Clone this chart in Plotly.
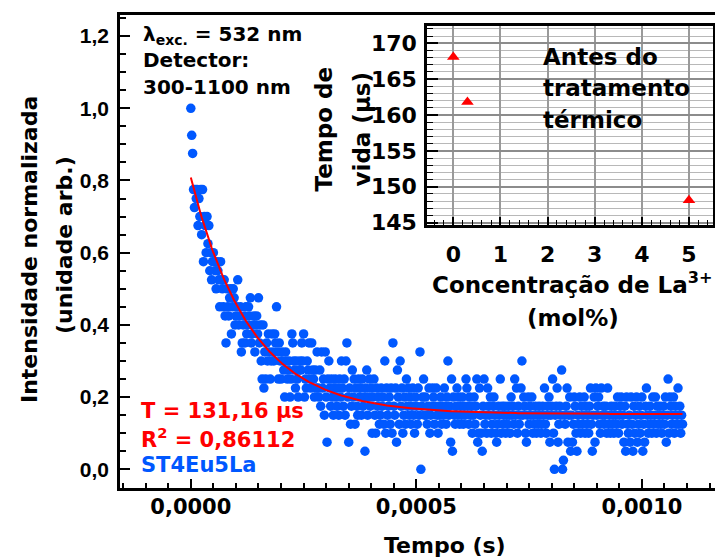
import numpy as np
import plotly.graph_objects as go

W, H = 715, 559
FONT = "DejaVu Sans"
TICK_FONT = "Liberation Sans"
BLUE = "#0058ff"
RED = "#ff0000"

# Luminescence decay of ST4Eu5La: detector counts sampled every 2 µs,
# normalised to the peak count.
SAMPLE_STEP_S = 2e-6
counts = [
    40, 37, 35, 31, 29, 31, 30, 31, 27, 30, 28, 31, 26, 31, 23, 28, 27, 24, 28, 25,
    27, 22, 24, 21, 23, 24, 23, 22, 20, 23, 22, 21, 18, 23, 21, 20, 18, 21, 17, 14,
    20, 18, 17, 19, 20, 15, 18, 20, 19, 16, 17, 18, 21, 16, 17, 18, 13, 14, 16, 17,
    14, 18, 15, 16, 18, 17, 19, 14, 15, 16, 17, 13, 16, 17, 15, 19, 14, 16, 12, 10,
    16, 9, 13, 10, 14, 12, 15, 13, 10, 12, 15, 13, 12, 15, 14, 18, 13, 10, 14, 12,
    10, 13, 12, 11, 8, 13, 12, 10, 11, 12, 8, 10, 15, 14, 12, 11, 9, 12, 10, 8,
    11, 12, 11, 14, 12, 15, 8, 10, 9, 12, 11, 14, 10, 9, 14, 11, 10, 8, 11, 9,
    13, 9, 8, 11, 7, 13, 9, 10, 6, 13, 8, 3, 10, 12, 9, 7, 10, 8, 6, 9,
    10, 8, 7, 9, 6, 10, 8, 12, 9, 7, 10, 6, 12, 14, 8, 3, 9, 5, 7, 11,
    8, 10, 5, 9, 7, 6, 10, 8, 9, 6, 10, 7, 8, 2, 9, 11, 6, 8, 10, 7,
    9, 4, 8, 10, 6, 4, 9, 7, 8, 5, 6, 9, 7, 8, 5, 12, 4, 9, 6, 7,
    8, 5, 9, 4, 14, 7, 6, 9, 3, 11, 8, 5, 12, 7, 9, 4, 6, 8, 5, 10,
    7, 9, 6, 8, 5, 7, 9, 6, 4, 8, 7, 5, 9, 6, 13, 0, 7, 8, 10, 6,
    8, 6, 5, 7, 9, 4, 6, 7, 9, 8, 5, 7, 9, 6, 4, 7, 6, 8, 5, 7,
    6, 9, 7, 5, 8, 12, 6, 7, 3, 10, 2, 8, 6, 5, 7, 9, 6, 8, 5, 7,
    6, 8, 5, 7, 6, 10, 9, 7, 5, 8, 6, 7, 4, 6, 8, 5, 7, 10, 3, 4,
    9, 6, 4, 2, 7, 10, 5, 6, 4, 9, 7, 6, 8, 4, 5, 7, 8, 6, 4, 3,
    5, 7, 6, 10, 4, 7, 5, 6, 7, 4, 6, 5, 7, 6, 4, 8, 6, 7, 5, 10,
    6, 9, 4, 7, 5, 6, 9, 12, 6, 8, 7, 4, 3, 6, 8, 5, 7, 6, 8, 4,
    6, 5, 7, 4, 6, 5, 7, 6, 4, 5, 7, 6, 9, 5, 4, 7, 6, 8, 3, 6,
    7, 10, 4, 0, 6, 7, 9, 3, 5, 7, 6, 11, 0, 1, 6, 5, 7, 9, 3, 6,
    8, 2, 6, 3, 5, 8, 7, 4, 2, 6, 5, 8, 4, 7, 5, 6, 8, 4, 7, 5,
    6, 4, 7, 9, 5, 2, 6, 8, 3, 9, 6, 7, 8, 5, 4, 9, 6, 7, 5, 6,
    7, 4, 9, 5, 6, 4, 7, 5, 6, 4, 7, 6, 5, 8, 4, 6, 7, 8, 5, 6,
    3, 7, 2, 8, 5, 4, 6, 3, 8, 5, 2, 7, 4, 6, 8, 3, 5, 7, 4, 6,
    8, 2, 5, 3, 7, 9, 6, 4, 5, 7, 6, 4, 8, 5, 6, 8, 4, 7, 5, 6,
    7, 5, 4, 6, 7, 5, 8, 3, 6, 10, 4, 8, 7, 5, 6, 8, 4, 7, 5, 6,
    9, 5, 7, 4, 6, 5,
]

# Mono-exponential fit  I(t) = y0 + A * exp(-t / tau)
FIT_TAU_S = 131.16e-6
FIT_Y0 = 0.153
FIT_AMP = 0.655
FIT_R2 = 0.86112
FIT_T_END = 0.00109

# Inset: lifetime versus La3+ content, before heat treatment
la_conc_mol = [0, 0.3, 5]
lifetime_us = [168.1, 161.8, 148.1]

t = np.arange(len(counts)) * SAMPLE_STEP_S
intensity = np.array(counts, dtype=float) / max(counts)
t_fit = np.linspace(0.0, FIT_T_END, 400)
i_fit = FIT_Y0 + FIT_AMP * np.exp(-t_fit / FIT_TAU_S)


def fx(p):
    return p / W


def fy(p):
    return 1 - p / H


def bold(size, color="black", family=FONT):
    return dict(family=family, size=size, color=color, weight="bold")


fig = go.Figure()
fig.add_trace(go.Scatter(
    x=t, y=intensity, mode="markers",
    marker=dict(size=9.5, color=BLUE, line=dict(width=0)),
    xaxis="x", yaxis="y", showlegend=False,
))
fig.add_trace(go.Scatter(
    x=t_fit, y=i_fit, mode="lines",
    line=dict(color=RED, width=2),
    xaxis="x", yaxis="y", showlegend=False,
))
fig.add_trace(go.Scatter(
    x=la_conc_mol, y=lifetime_us, mode="markers",
    marker=dict(symbol="triangle-up", size=11, color=RED, line=dict(width=0)),
    xaxis="x2", yaxis="y2", showlegend=False,
))

axis_common = dict(
    showline=True, linecolor="black", linewidth=2.5,
    ticks="inside", tickcolor="black", tickwidth=1.5,
    zeroline=False, automargin=False,
)

fig.update_layout(
    template="none",
    width=W, height=H,
    margin=dict(l=0, r=0, t=0, b=0),
    paper_bgcolor="white", plot_bgcolor="white",
    separators=", ",
    font=bold(20),
    showlegend=False,
    xaxis=dict(
        **axis_common,
        domain=[fx(120), 1.0], range=[-0.000157, 0.001162],
        anchor="y", mirror=True, showgrid=False,
        tick0=0, dtick=0.0005, tickformat=".4f", ticklen=10,
        tickfont=bold(21), ticklabelstandoff=-2,
        minor=dict(dtick=0.00005, ticks="inside", ticklen=6,
                   tickwidth=1.5, tickcolor="black", showgrid=False),
    ),
    yaxis=dict(
        **axis_common,
        domain=[fy(488.3), fy(15)], range=[-0.0526, 1.2584],
        anchor="x", mirror=False, showgrid=False,
        tick0=0, dtick=0.2, tickformat=".1f", ticklen=10,
        tickfont=bold(21, family=TICK_FONT), ticklabelstandoff=4,
        minor=dict(dtick=0.05, ticks="inside", ticklen=6,
                   tickwidth=1.5, tickcolor="black", showgrid=False),
    ),
    xaxis2=dict(
        **axis_common,
        domain=[fx(427), fx(713)], range=[-0.558, 5.51],
        anchor="y2", mirror=True,
        showgrid=True, gridcolor="#9a9a9a", gridwidth=1.5,
        tick0=0, dtick=1, ticklen=8,
        tickfont=bold(22), ticklabelstandoff=8,
        minor=dict(dtick=0.2, ticks="inside", ticklen=5,
                   tickwidth=1.2, tickcolor="black", showgrid=False),
    ),
    yaxis2=dict(
        **axis_common,
        domain=[fy(225), fy(26)], range=[144.66, 172.41],
        anchor="x2", mirror=True,
        showgrid=True, gridcolor="#8c8c8c", gridwidth=1.5,
        tick0=145, dtick=5, ticklen=11,
        tickfont=bold(22), ticklabelstandoff=3,
        minor=dict(dtick=1, ticks="inside", ticklen=6, tickwidth=1.2,
                   tickcolor="black", showgrid=True,
                   gridcolor="#b8b8b8", gridwidth=1.2),
    ),
)

tau_text = "T = " + f"{FIT_TAU_S * 1e6:.2f}".replace(".", ",") + " µs"
r2_text = "R<sup>2</sup> = " + f"{FIT_R2:.5f}".replace(".", ",")

notes = [
    # main axis titles
    dict(text="Intensidade normalizada", x=29, y=250, ang=-90, size=22),
    dict(text="(unidade arb.)", x=64, y=245, ang=-90, size=22),
    dict(text="Tempo (s)", x=445, y=545, size=22),
    # excitation / detector info
    dict(text="λ<sub>exc.</sub> = 532 nm", x=141, y=35, size=20, left=True),
    dict(text="Detector:", x=141, y=60, size=20, left=True),
    dict(text="300-1100 nm", x=141, y=87.5, size=20, left=True),
    # fit results and sample name
    dict(text=tau_text, x=139, y=411, size=21, left=True, color=RED),
    dict(text=r2_text, x=139, y=438, size=21, left=True, color=RED),
    dict(text="ST4Eu5La", x=139, y=465, size=21, left=True, color=BLUE),
    # inset labels
    dict(text="Antes do", x=541, y=57, size=23, left=True),
    dict(text="tratamento", x=541, y=88, size=23, left=True),
    dict(text="térmico", x=541, y=119.5, size=23, left=True),
    dict(text="Tempo de", x=323, y=129.5, ang=-90, size=23),
    dict(text="vida (µs)", x=361, y=129.5, ang=-90, size=23),
    dict(text="Concentração de La<sup>3+</sup>", x=572, y=283, size=23),
    dict(text="(mol%)", x=573, y=318, size=23),
]

for n in notes:
    fig.add_annotation(
        text=n["text"], xref="paper", yref="paper",
        x=fx(n["x"]), y=fy(n["y"]),
        xanchor="left" if n.get("left") else "center", yanchor="middle",
        textangle=n.get("ang", 0), showarrow=False,
        font=bold(n["size"], n.get("color", "black")),
    )

fig.write_html("out.html")
